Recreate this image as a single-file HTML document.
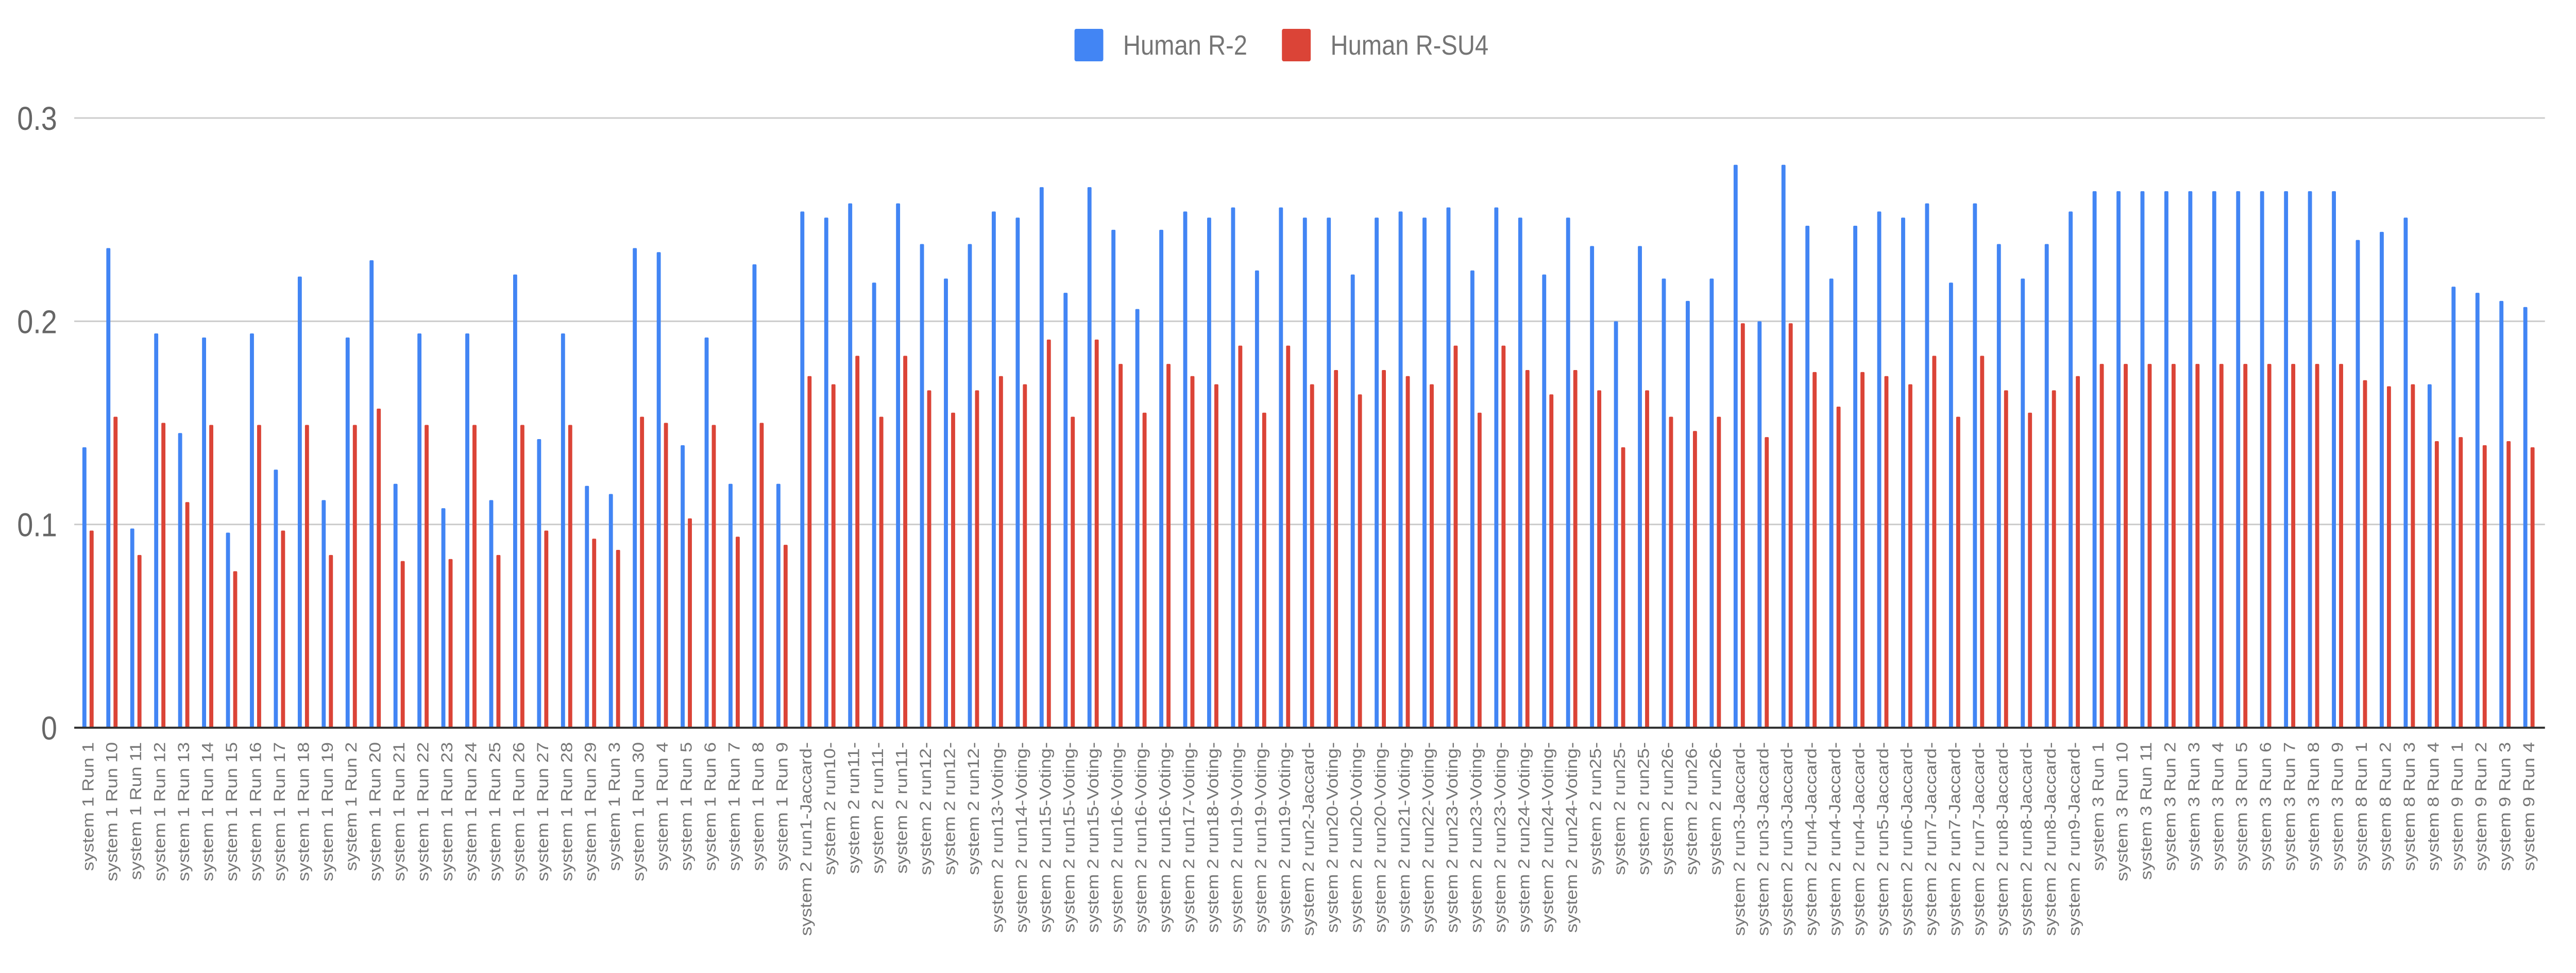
<!DOCTYPE html>
<html>
<head>
<meta charset="utf-8">
<style>
html,body{margin:0;padding:0;background:#fff;width:100%;height:100%;overflow:hidden;}
svg{display:block;width:100vw;height:100vh;}
text{font-family:"Liberation Sans",Arial,sans-serif;}
</style>
</head>
<body>
<svg id="chart" width="100%" height="100%" viewBox="0 0 5725 1888" preserveAspectRatio="none" xmlns="http://www.w3.org/2000/svg">
  <rect x="0" y="0" width="5725" height="1888" fill="#ffffff"/>
  <g id="legend">
    <g>
      <rect x="2388" y="56" width="64" height="63" rx="4" fill="#4285F4"/>
      <text x="2496" y="106" font-size="54" fill="#757575">Human R-2</text>
    </g>
    <g>
      <rect x="2849" y="56" width="64" height="63" rx="4" fill="#DB4437"/>
      <text x="2957" y="106" font-size="54" fill="#757575">Human R-SU4</text>
    </g>
  </g>
  <g id="grid"></g>
  <g id="yticks"></g>
  <g id="bars"></g>
  <g id="xlabels"></g>
</svg>
<script>
const categories = [
"system 1 Run 1","system 1 Run 10","system 1 Run 11","system 1 Run 12","system 1 Run 13","system 1 Run 14","system 1 Run 15","system 1 Run 16","system 1 Run 17","system 1 Run 18","system 1 Run 19","system 1 Run 2","system 1 Run 20","system 1 Run 21","system 1 Run 22","system 1 Run 23","system 1 Run 24","system 1 Run 25","system 1 Run 26","system 1 Run 27","system 1 Run 28","system 1 Run 29","system 1 Run 3","system 1 Run 30","system 1 Run 4","system 1 Run 5","system 1 Run 6","system 1 Run 7","system 1 Run 8","system 1 Run 9",
"system 2 run1-Jaccard-","system 2 run10-","system 2 run11-","system 2 run11-","system 2 run11-","system 2 run12-","system 2 run12-","system 2 run12-",
"system 2 run13-Voting-","system 2 run14-Voting-","system 2 run15-Voting-","system 2 run15-Voting-","system 2 run15-Voting-","system 2 run16-Voting-","system 2 run16-Voting-","system 2 run16-Voting-","system 2 run17-Voting-","system 2 run18-Voting-","system 2 run19-Voting-","system 2 run19-Voting-","system 2 run19-Voting-",
"system 2 run2-Jaccard-","system 2 run20-Voting-","system 2 run20-Voting-","system 2 run20-Voting-","system 2 run21-Voting-","system 2 run22-Voting-","system 2 run23-Voting-","system 2 run23-Voting-","system 2 run23-Voting-","system 2 run24-Voting-","system 2 run24-Voting-","system 2 run24-Voting-",
"system 2 run25-","system 2 run25-","system 2 run25-","system 2 run26-","system 2 run26-","system 2 run26-",
"system 2 run3-Jaccard-","system 2 run3-Jaccard-","system 2 run3-Jaccard-","system 2 run4-Jaccard-","system 2 run4-Jaccard-","system 2 run4-Jaccard-","system 2 run5-Jaccard-","system 2 run6-Jaccard-","system 2 run7-Jaccard-","system 2 run7-Jaccard-","system 2 run7-Jaccard-","system 2 run8-Jaccard-","system 2 run8-Jaccard-","system 2 run8-Jaccard-","system 2 run9-Jaccard-",
"system 3 Run 1","system 3 Run 10","system 3 Run 11","system 3 Run 2","system 3 Run 3","system 3 Run 4","system 3 Run 5","system 3 Run 6","system 3 Run 7","system 3 Run 8","system 3 Run 9",
"system 8 Run 1","system 8 Run 2","system 8 Run 3","system 8 Run 4",
"system 9 Run 1","system 9 Run 2","system 9 Run 3","system 9 Run 4"
];
const humanR2 = [
0.138,0.236,0.098,0.194,0.145,0.192,0.096,0.194,0.127,0.222,0.112,0.192,0.230,0.120,0.194,0.108,0.194,0.112,0.223,0.142,0.194,0.119,0.115,0.236,0.234,0.139,0.192,0.120,0.228,0.120,
0.254,0.251,0.258,0.219,0.258,0.238,0.221,0.238,
0.254,0.251,0.266,0.214,0.266,0.245,0.206,0.245,0.254,0.251,0.256,0.225,0.256,
0.251,0.251,0.223,0.251,0.254,0.251,0.256,0.225,0.256,0.251,0.223,0.251,
0.237,0.200,0.237,0.221,0.210,0.221,
0.277,0.200,0.277,0.247,0.221,0.247,0.254,0.251,0.258,0.219,0.258,0.238,0.221,0.238,0.254,
0.264,0.264,0.264,0.264,0.264,0.264,0.264,0.264,0.264,0.264,0.264,
0.240,0.244,0.251,0.169,
0.217,0.214,0.210,0.207
];
const humanRSU4 = [
0.097,0.153,0.085,0.150,0.111,0.149,0.077,0.149,0.097,0.149,0.085,0.149,0.157,0.082,0.149,0.083,0.149,0.085,0.149,0.097,0.149,0.093,0.0875,0.153,0.150,0.103,0.149,0.094,0.150,0.090,
0.173,0.169,0.183,0.153,0.183,0.166,0.155,0.166,
0.173,0.169,0.191,0.153,0.191,0.179,0.155,0.179,0.173,0.169,0.188,0.155,0.188,
0.169,0.176,0.164,0.176,0.173,0.169,0.188,0.155,0.188,0.176,0.164,0.176,
0.166,0.138,0.166,0.153,0.146,0.153,
0.199,0.143,0.199,0.175,0.158,0.175,0.173,0.169,0.183,0.153,0.183,0.166,0.155,0.166,0.173,
0.179,0.179,0.179,0.179,0.179,0.179,0.179,0.179,0.179,0.179,0.179,
0.171,0.168,0.169,0.141,
0.143,0.139,0.141,0.138
];
const yTicks = [0, 0.1, 0.2, 0.3];
const yTickLabels = ["0", "0.1", "0.2", "0.3"];

const NS = "http://www.w3.org/2000/svg";
const plotLeft = 165, plotRight = 5656;
const bandStart = 169, bandEnd = 5647;
const yBase = 1412, yTopVal = 0.3, yTopPx = 229;
function yScale(v){ return yBase - (v / yTopVal) * (yBase - yTopPx); }
function xCenter(i){ const bw = (bandEnd - bandStart) / categories.length; return bandStart + bw * (i + 0.5); }
function mk(tag, attrs){ const e = document.createElementNS(NS, tag); for (const k in attrs) e.setAttribute(k, attrs[k]); return e; }

const svg = document.getElementById('chart');
const grid = document.getElementById('grid');
const yt = document.getElementById('yticks');
let baseLine = null;
yTicks.forEach(function(t, i){
  const y = yScale(t);
  const ln = mk('line', {x1: plotLeft, x2: plotRight, y1: y, y2: y, stroke: t === 0 ? '#333333' : '#cccccc', 'stroke-width': t === 0 ? 4 : 3});
  
  
  if (t === 0) { baseLine = ln; } else { grid.appendChild(ln); }
  const tx = mk('text', {x: 127, y: y + 23, 'font-size': 64, fill: '#666666', 'text-anchor': 'end'});
  
  
  tx.textContent = yTickLabels[i];
  yt.appendChild(tx);
});

const bars = document.getElementById('bars');
const xl = document.getElementById('xlabels');
const barW = 9;
categories.forEach(function(c, i){
  const cx = xCenter(i);
  const yb = yScale(humanR2[i]);
  const b = mk('rect', {x: cx - 8 - barW/2, y: yb, width: barW, height: yBase - yb, fill: '#4285F4', rx: 2});
  
  
  bars.appendChild(b);
  const yr = yScale(humanRSU4[i]);
  const r = mk('rect', {x: cx + 8 - barW/2, y: yr, width: barW, height: yBase - yr, fill: '#DB4437', rx: 2});
  
  
  bars.appendChild(r);
  const lx = cx + 12, ly = 1440;
  const t = mk('text', {x: lx, y: ly, 'font-size': 36, fill: '#777777', 'text-anchor': 'end', transform: 'rotate(-90 ' + lx + ' ' + ly + ')'});
  
  
  t.textContent = c;
  xl.appendChild(t);
});
if (baseLine) svg.appendChild(baseLine);
</script>
</body>
</html>
